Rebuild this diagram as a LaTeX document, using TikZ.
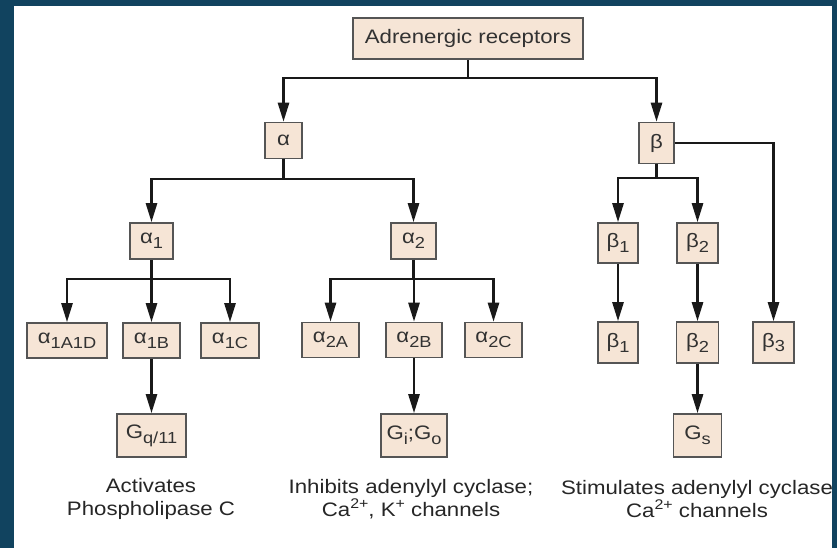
\documentclass[tikz,border=0pt]{standalone}
\usepackage{fontspec}
\setmainfont[FakeStretch=1.14]{Liberation Sans}
\usetikzlibrary{arrows.meta}
\definecolor{bgblue}{RGB}{17,67,95}
\definecolor{boxfill}{RGB}{246,229,214}
\definecolor{boxline}{RGB}{85,85,85}
\definecolor{txt}{RGB}{50,50,50}
\newcommand\sbs[1]{\raisebox{-0.25em}{\fontsize{16}{16}\selectfont #1}}
\newcommand\sps[1]{\raisebox{0.42em}{\fontsize{14}{14}\selectfont #1}}
\tikzset{
  box/.style={draw=boxline, line width=1.6pt, fill=boxfill, text=txt, inner sep=0pt,
    font=\fontsize{19.5}{23}\selectfont},
  arr/.style={-{Triangle[width=11pt,length=19pt]}, line width=2.6pt, draw=black!90},
  ln/.style={line width=2.6pt, draw=black!90},
  lbl/.style={align=center, text=black!85, inner sep=0pt, font=\fontsize{19.5}{23}\selectfont}
}
\begin{document}
\begin{tikzpicture}[x=1pt,y=-1pt]
\useasboundingbox (0,0) rectangle (837,547);
\fill[white] (-2,-2) rectangle (839,550);
% nodes
\node[box, minimum width=230pt, minimum height=41pt] (top) at (468,38.5) {Adrenergic receptors};
\node[box, minimum width=37pt, minimum height=36pt] (al) at (283.5,140.5) {α};
\node[box, minimum width=35pt, minimum height=41pt] (be) at (656.5,143) {β};
\node[box, minimum width=43pt, minimum height=36pt] (a1) at (151.5,241) {α\sbs{1}};
\node[box, minimum width=45pt, minimum height=36pt] (a2) at (413.5,241) {α\sbs{2}};
\node[box, minimum width=40pt, minimum height=40pt] (b1) at (618,243) {β\sbs{1}};
\node[box, minimum width=41pt, minimum height=40pt] (b2) at (697.5,243) {β\sbs{2}};
\node[box, minimum width=80pt, minimum height=35pt] (a1ad) at (67,340.5) {α\sbs{1A1D}};
\node[box, minimum width=57pt, minimum height=35pt] (a1b) at (151.5,340.5) {α\sbs{1B}};
\node[box, minimum width=58pt, minimum height=35pt] (a1c) at (230,340.5) {α\sbs{1C}};
\node[box, minimum width=57pt, minimum height=35pt] (a2a) at (330.5,340) {α\sbs{2A}};
\node[box, minimum width=56pt, minimum height=35pt] (a2b) at (414,340) {α\sbs{2B}};
\node[box, minimum width=57pt, minimum height=35pt] (a2c) at (493.5,340) {α\sbs{2C}};
\node[box, minimum width=40pt, minimum height=41pt] (b1l) at (618,342.5) {β\sbs{1}};
\node[box, minimum width=42pt, minimum height=41pt] (b2l) at (697.5,342.5) {β\sbs{2}};
\node[box, minimum width=41pt, minimum height=41pt] (b3) at (773.5,342.5) {β\sbs{3}};
\node[box, minimum width=69pt, minimum height=43pt] (gq) at (151.5,435.5) {G\sbs{q/11}};
\node[box, minimum width=66pt, minimum height=43pt] (gi) at (414,435.5) {G\sbs{i};G\sbs{o}};
\node[box, minimum width=48pt, minimum height=43pt] (gs) at (697.5,435.5) {G\sbs{s}};
% labels
\node[lbl] (l1) at (151,499) {Activates\\Phospholipase C};
\node[lbl] (l2) at (411,499) {Inhibits adenylyl cyclase;\\Ca\sps{2+}, K\sps{+} channels};
\node[lbl] (l3) at (697,499) {Stimulates adenylyl cyclase\\Ca\sps{2+} channels};
% bar coordinates
\coordinate (j0) at (468,78);
\coordinate (ja) at (283.5,179);
\coordinate (jb) at (656.5,178);
\coordinate (j1) at (151.5,279);
\coordinate (j2) at (413.5,279);
% connectors
\draw[ln] (top.south) -- (j0);
\draw[arr] (j0) -| (al.north);
\draw[arr] (j0) -| (be.north);
\draw[ln] (al.south) -- (ja);
\draw[arr] (ja) -| (a1.north);
\draw[arr] (ja) -| (a2.north);
\draw[ln] (be.south) -- (jb);
\draw[arr] (jb) -| (b1.north);
\draw[arr] (jb) -| (b2.north);
\draw[arr] (be.east) -| (b3.north);
\draw[ln] (a1.south) -- (j1);
\draw[arr] (j1) -| (a1ad.north);
\draw[arr] (j1) -| (a1b.north);
\draw[arr] (j1) -| (a1c.north);
\draw[ln] (a2.south) -- (j2);
\draw[arr] (j2) -| (a2a.north);
\draw[arr] (j2) -| (a2b.north);
\draw[arr] (j2) -| (a2c.north);
\draw[arr] (b1.south) -- (b1l.north);
\draw[arr] (b2.south) -- (b2l.north);
\draw[arr] (a1b.south) -- (gq.north);
\draw[arr] (a2b.south) -- (gi.north);
\draw[arr] (b2l.south) -- (gs.north);
% frame strips (left, top, right)
\fill[bgblue] (-2,-2) rectangle (14,550);
\fill[bgblue] (-2,-2) rectangle (839,6);
\fill[bgblue] (832,-2) rectangle (839,550);
\end{tikzpicture}
\end{document}
